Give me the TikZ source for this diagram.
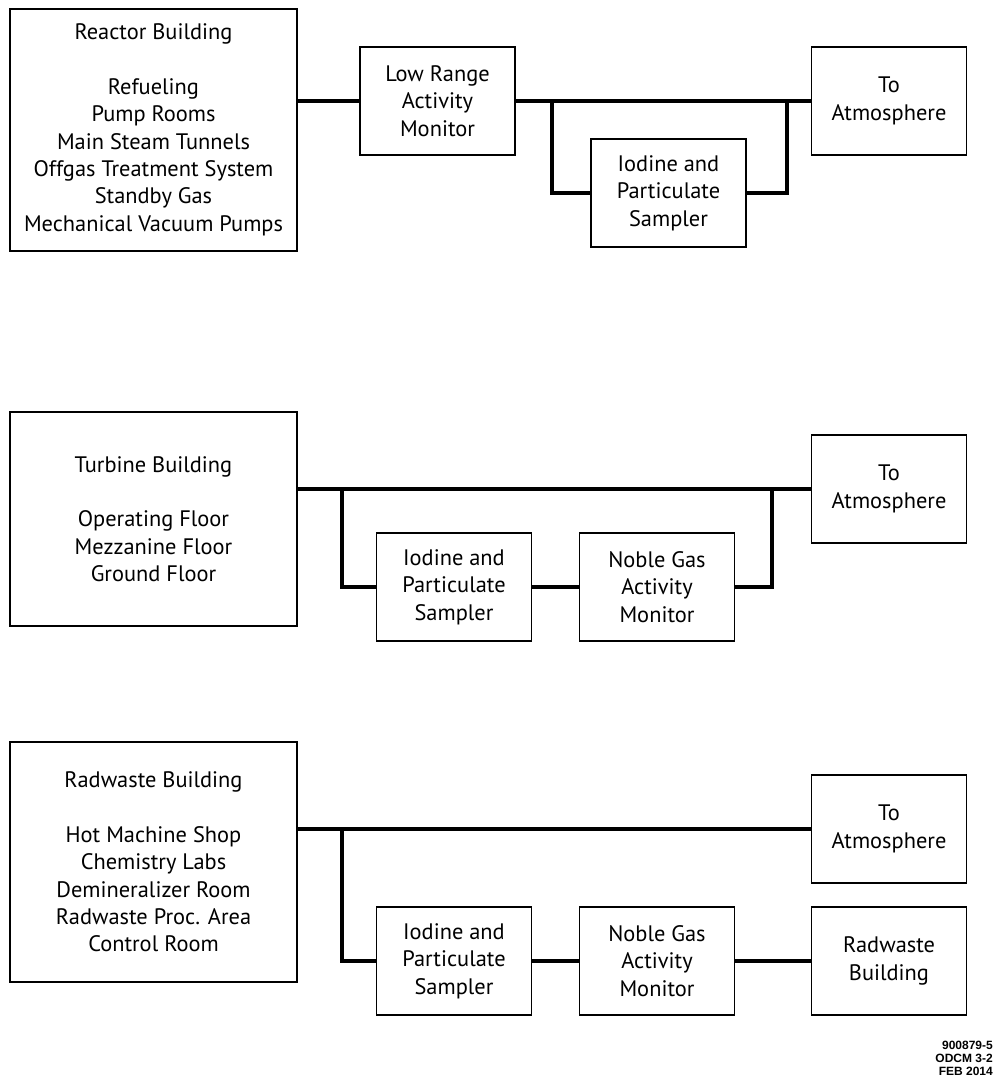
\documentclass[tikz,border=0pt]{standalone}
\usepackage{fontspec}
\setmainfont{PT Sans}
\newfontfamily\tagfont{Liberation Sans}
\begin{document}
\begin{tikzpicture} [
                x=1pt, y=-1pt,
                unit/.style={draw, line width=1.6pt, align=center, inner sep=0pt,
                    font=\fontsize{22.4}{27.4}\selectfont},
                small unit/.style={unit, minimum width=155pt, minimum height=108pt},
                building/.style={unit, minimum width=287pt},
                pipe/.style={draw, line width=3.4pt, -},
            ]
            \useasboundingbox (0,0) rectangle (996,1085);
            % First we draw the buildings
            \node[building, minimum height=242pt] (reactor) at (153.5,130)
                {Reactor Building\\[27pt]Refueling\\Pump Rooms\\Main Steam Tunnels\\
                 Offgas Treatment System\\Standby Gas\\Mechanical Vacuum Pumps};
            \node[building, minimum height=214pt] (turbine) at (153.5,519)
                {Turbine Building\\[27pt]Operating Floor\\Mezzanine Floor\\Ground Floor};
            \node[building, minimum height=240pt] (radwaste) at (153.5,862)
                {Radwaste Building\\[27pt]Hot Machine Shop\\Chemistry Labs\\
                 Demineralizer Room\\Radwaste Proc. Area\\Control Room};
            % Then the monitors, samplers and outlets
            \foreach \x/\y/\name/\txt in {437.5/101/lowrange/{Low Range\\Activity\\Monitor},
                    889/101/atm1/{To\\Atmosphere},
                    668.5/193/samp1/{Iodine and\\Particulate\\Sampler},
                    889/489/atm2/{To\\Atmosphere},
                    454/587/samp2/{Iodine and\\Particulate\\Sampler},
                    657/587/ng2/{Noble Gas\\Activity\\Monitor},
                    889/829/atm3/{To\\Atmosphere},
                    454/961/samp3/{Iodine and\\Particulate\\Sampler},
                    657/961/ng3/{Noble Gas\\Activity\\Monitor},
                    889/961/waste/{Radwaste\\Building}}
                \node[small unit] (\name) at (\x,\y) {\txt};
            % Tee points on the main lines
            \coordinate (tee1a) at (552,101);
            \coordinate (tee1b) at (787,101);
            \coordinate (tee2a) at (342,489);
            \coordinate (tee2b) at (772,489);
            \coordinate (tee3a) at (342,829);
            % Connect buildings with the main lines
            \path[pipe] (reactor.east |- lowrange.west) -- (lowrange.west);
            \path[pipe] (turbine.east |- atm2.west) -- (atm2.west);
            \path[pipe] (radwaste.east |- atm3.west) -- (atm3.west);
            \path[pipe] (lowrange.east) -- (atm1.west);
            % Branches through the samplers
            \path[pipe] (tee1a) |- (samp1.west);
            \path[pipe] (tee2a) |- (samp2.west);
            \path[pipe] (tee3a) |- (samp3.west);
            \path[pipe] (samp1.east) -| (tee1b);
            \path[pipe] (ng2.east) -| (tee2b);
            \path[pipe] (samp2.east) -- (ng2.west);
            \path[pipe] (samp3.east) -- (ng3.west);
            \path[pipe] (ng3.east) -- (waste.west);
            % drawing number
            \node[anchor=north east, align=right, inner sep=0pt,
                  font=\tagfont\bfseries\fontsize{12}{13}\selectfont] (tag) at (993,1041)
                {900879-5\\ODCM 3-2\\FEB 2014};
        \end{tikzpicture}
\end{document}
